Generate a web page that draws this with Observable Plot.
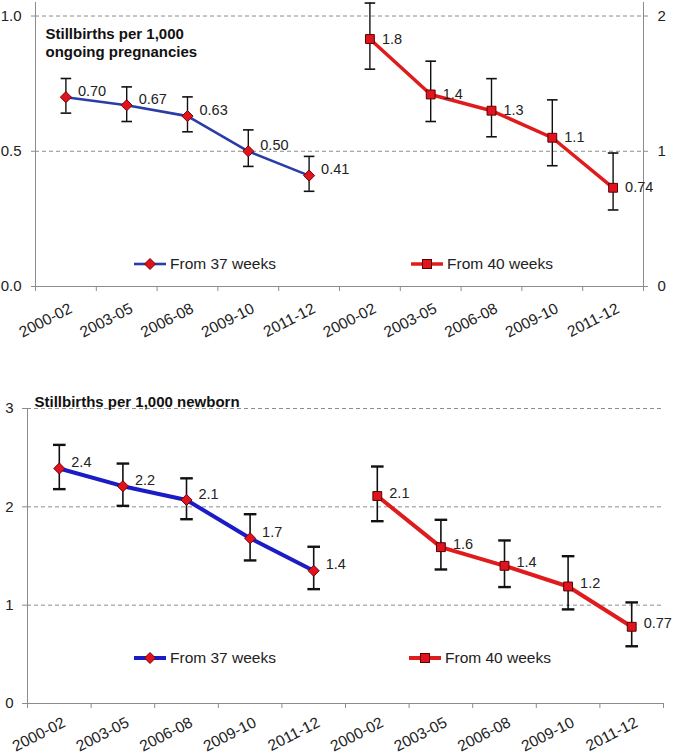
<!DOCTYPE html>
<html><head><meta charset="utf-8">
<script src="https://cdn.jsdelivr.net/npm/d3@7"></script>
<script src="https://cdn.jsdelivr.net/npm/@observablehq/plot@0.6"></script>
<style>
body{margin:0;background:#fff;font-family:"Liberation Sans",Arial,sans-serif;}
#chart{position:relative;width:675px;height:755px;overflow:hidden;}
.panel{position:relative;width:675px;}
.panel svg{display:block;overflow:visible;}
.legend{position:absolute;display:flex;align-items:center;font-size:15.5px;color:#222;white-space:nowrap;transform:translateY(-50%);}
.legend svg{margin-right:4px;}
</style></head><body><div id="chart"></div>
<script>
// ---- data ----
const periods = ["2000-02", "2003-05", "2006-08", "2009-10", "2011-12"];

// Panel 1: stillbirths per 1,000 ongoing pregnancies
const preg37 = [0.70, 0.67, 0.63, 0.50, 0.41];
const preg37Lo = [0.641, 0.610, 0.572, 0.444, 0.352];
const preg37Hi = [0.769, 0.738, 0.701, 0.579, 0.481];
const preg37Labels = ["0.70", "0.67", "0.63", "0.50", "0.41"];
const preg40 = [1.83, 1.42, 1.30, 1.10, 0.73];
const preg40Lo = [1.607, 1.22, 1.107, 0.893, 0.566];
const preg40Hi = [2.096, 1.666, 1.537, 1.38, 0.987];
const preg40Labels = ["1.8", "1.4", "1.3", "1.1", "0.74"];

// Panel 2: stillbirths per 1,000 newborn
const born37 = [2.39, 2.21, 2.07, 1.68, 1.35];
const born37Lo = [2.18, 2.01, 1.874, 1.455, 1.163];
const born37Hi = [2.63, 2.44, 2.29, 1.925, 1.594];
const born37Labels = ["2.4", "2.2", "2.1", "1.7", "1.4"];
const born40 = [2.11, 1.59, 1.40, 1.19, 0.78];
const born40Lo = [1.854, 1.363, 1.184, 0.957, 0.582];
const born40Hi = [2.41, 1.868, 1.658, 1.498, 1.028];
const born40Labels = ["2.1", "1.6", "1.4", "1.2", "0.77"];

const seriesNames = ["From 37 weeks", "From 40 weeks"];
const titles = ["Stillbirths per 1,000\nongoing pregnancies", "Stillbirths per 1,000 newborn"];

// ---- drawing ----
const GRID = "#8c8c8c", TEXT = "#222";
const capSymbol = {draw(ctx, size){ const r = Math.sqrt(size/Math.PI); ctx.moveTo(-r,0); ctx.lineTo(r,0); }};

function panel(cfg){
  const rows = [];
  cfg.series.forEach((s, si) => s.values.forEach((v, i) => rows.push({
    series: si, slot: si*periods.length + i + 0.5,
    y: v / s.scale, lo: s.lo[i] / s.scale, hi: s.hi[i] / s.scale, label: s.labels[i]
  })));
  const marks = [
    Plot.gridY(cfg.grid, {stroke: GRID, strokeOpacity: 1, strokeDasharray: "4,3"}),
    Plot.ruleY([0], {stroke: GRID}),
    Plot.ruleX([0], {stroke: GRID}),
    ...(cfg.rightAxis ? [Plot.ruleX([10], {stroke: GRID})] : []),
    Plot.axisY({ticks: cfg.yTicks, tickSize: cfg.yTickSize, tickPadding: cfg.yTickPadding, tickFormat: cfg.yFormat, stroke: GRID, fill: TEXT, label: null, fontSize: 15}),
    ...(cfg.rightAxis ? [Plot.axisY({anchor: "right", ticks: cfg.yTicks, tickSize: 4, tickPadding: 10, tickFormat: cfg.rightAxis, stroke: GRID, fill: TEXT, textAnchor: "start", label: null, fontSize: 15})] : []),
    Plot.axisX({ticks: d3.range(11), tickSize: 5, tickFormat: () => "", stroke: GRID, label: null}),
    Plot.axisX({ticks: d3.range(10).map(i => i + 0.5), tickSize: 0, tickPadding: cfg.xPad, tickRotate: -27, dx: cfg.xDx,
      tickFormat: d => periods[Math.floor(d) % periods.length], fill: TEXT, label: null, fontSize: 15.5}),
    Plot.text([cfg.title], {frameAnchor: "top-left", dx: cfg.titleDx, dy: cfg.titleDy, lineAnchor: "top", textAnchor: "start",
      fontWeight: "bold", fontSize: 15, lineHeight: 1.2, fill: "#111"})
  ];
  cfg.series.forEach((s, si) => {
    const d = rows.filter(r => r.series === si);
    marks.push(Plot.line(d, {x: "slot", y: "y", stroke: s.color, strokeWidth: s.lineWidth}));
  });
  marks.push(
    Plot.ruleX(rows, {x: "slot", y1: "lo", y2: "hi", stroke: "#111", strokeWidth: cfg.errWidth}),
    Plot.dot(rows, {x: "slot", y: "hi", symbol: capSymbol, r: cfg.capR, stroke: "#111", strokeWidth: cfg.capWidth}),
    Plot.dot(rows, {x: "slot", y: "lo", symbol: capSymbol, r: cfg.capR, stroke: "#111", strokeWidth: cfg.capWidth})
  );
  cfg.series.forEach((s, si) => {
    const d = rows.filter(r => r.series === si);
    marks.push(Plot.dot(d, {x: "slot", y: "y", symbol: s.symbol, r: s.r, fill: s.fill, stroke: s.markStroke, strokeWidth: 1}));
    marks.push(Plot.text(d, {x: "slot", y: "y", text: "label", dx: 12, dy: s.labelDy, textAnchor: "start", fontSize: 14.5, fill: TEXT}));
  });
  const svg = Plot.plot({
    width: 675, height: cfg.height,
    marginLeft: cfg.ml, marginRight: cfg.mr, marginTop: cfg.mt, marginBottom: cfg.mb,
    style: {fontFamily: "'Liberation Sans', Arial, sans-serif", fontSize: "15px", color: TEXT, background: "#fff"},
    x: {domain: [0, 10]},
    y: {domain: cfg.yDomain},
    marks
  });
  const wrap = document.createElement("div");
  wrap.className = "panel";
  wrap.style.height = cfg.height + "px";
  wrap.appendChild(svg);
  cfg.series.forEach((s, si) => {
    const item = document.createElement("div");
    item.className = "legend";
    item.style.left = cfg.legendX[si] + "px";
    item.style.top = cfg.legendY + "px";
    const sw = d3.create("svg").attr("width", 32).attr("height", 14);
    sw.append("line").attr("x1", 0).attr("x2", 32).attr("y1", 7).attr("y2", 7).attr("stroke", s.color).attr("stroke-width", s.lineWidth);
    if (s.symbol === "square") sw.append("rect").attr("x", 11.5).attr("y", 2.5).attr("width", 9).attr("height", 9).attr("fill", s.fill).attr("stroke", s.markStroke);
    else sw.append("path").attr("d", "M16,1.5L21.5,7L16,12.5L10.5,7Z").attr("fill", s.fill).attr("stroke", s.markStroke);
    item.appendChild(sw.node());
    item.appendChild(document.createTextNode(seriesNames[si]));
    wrap.appendChild(item);
  });
  return wrap;
}

const chart = document.getElementById("chart");
chart.appendChild(panel({
  height: 345, ml: 35, mr: 32, mt: 2, mb: 59, yDomain: [0, 1.05],
  yTicks: [0, 0.5, 1], yFormat: d3.format(".1f"), yTickSize: 4, yTickPadding: 10,
  rightAxis: d => String(d * 2), grid: [0.5, 1],
  xPad: 21, xDx: 5, title: titles[0], titleDx: 10, titleDy: 24,
  errWidth: 1.4, capWidth: 1.6, capR: 5.3,
  legendX: [134, 411], legendY: 264,
  series: [
    {values: preg37, lo: preg37Lo, hi: preg37Hi, labels: preg37Labels, scale: 1, color: "#2a3ca6", lineWidth: 2.6,
     symbol: "diamond2", r: 5, fill: "#e0141e", markStroke: "#7a0000", labelDy: -6},
    {values: preg40, lo: preg40Lo, hi: preg40Hi, labels: preg40Labels, scale: 2, color: "#e01b1b", lineWidth: 3.5,
     symbol: "square", r: 5, fill: "#e0141e", markStroke: "#5a0000", labelDy: 0}
  ]
}));
chart.appendChild(panel({
  height: 410, ml: 27, mr: 12, mt: 63, mb: 52, yDomain: [0, 3],
  yTicks: [0, 1, 2, 3], yFormat: d => String(d), yTickSize: 5, yTickPadding: 9,
  rightAxis: null, grid: [1, 2, 3],
  xPad: 18, xDx: 5, title: titles[1], titleDx: 7, titleDy: -14,
  errWidth: 1.6, capWidth: 2.4, capR: 6.3,
  legendX: [134, 409], legendY: 313,
  series: [
    {values: born37, lo: born37Lo, hi: born37Hi, labels: born37Labels, scale: 1, color: "#1c1cc6", lineWidth: 4,
     symbol: "diamond2", r: 5, fill: "#e0141e", markStroke: "#7a0000", labelDy: -6},
    {values: born40, lo: born40Lo, hi: born40Hi, labels: born40Labels, scale: 1, color: "#e01b1b", lineWidth: 4,
     symbol: "square", r: 5, fill: "#e0141e", markStroke: "#5a0000", labelDy: -3}
  ]
}));
</script></body></html>
